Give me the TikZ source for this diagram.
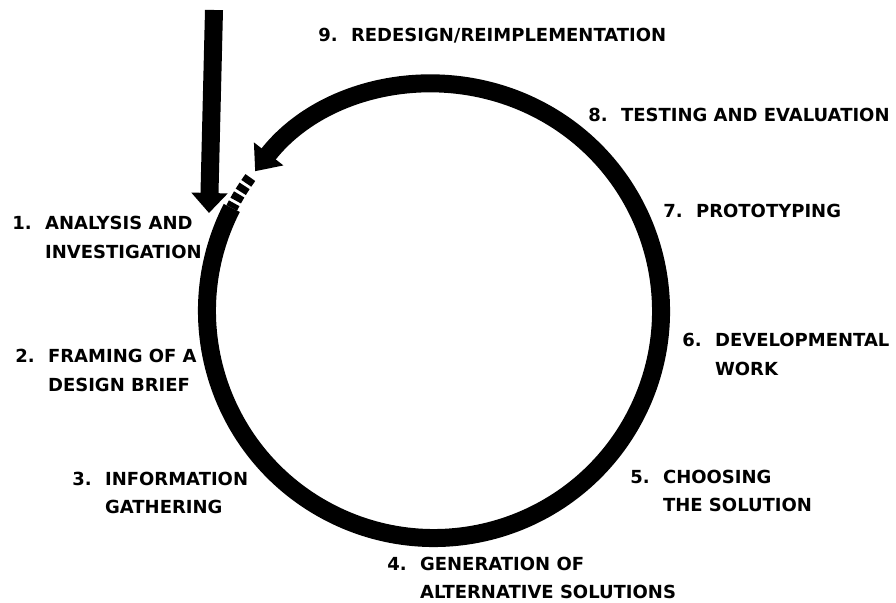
\documentclass[tikz,border=0pt]{standalone}
\usepackage{fontspec}
\setsansfont{DejaVu Sans}
\usepackage{tikz}
\usetikzlibrary{arrows.meta}
\newcommand{\stagetext}[2]{\begin{tabular}[t]{@{}p{0.82cm}@{}l@{}}#1 & #2\end{tabular}}

\begin{document}
\begin{tikzpicture}[
    x=0.025cm, y=0.025cm,
    ring/.style={-{Triangle[length=0.55cm, width=0.9cm]}, line width=0.45cm},
    hatch/.style={line width=0.3cm, dash pattern=on 5pt off 2.2pt},
    bigarr/.style={-{Triangle[length=0.5cm, width=0.88cm]}, line width=0.45cm},
    stage/.style={anchor=base west, inner sep=0pt, font=\sffamily\bfseries\fontsize{12.8}{20}\selectfont},
  ]
  \useasboundingbox (0,0) rectangle (896,-603);

  % Cycle
  \coordinate (c) at (434,-311);
  \draw[ring] ([shift={(153:227)}]c) arc[start angle=153, end angle=502, radius=227];
  \draw[hatch] ([shift={(144:227)}]c) arc[start angle=144, end angle=153, radius=227];

  % Entry arrow
  \coordinate (top) at (214,-10);
  \coordinate (entry) at (209,-213);
  \draw[bigarr] (top) -- (entry);

  % Stages
  \node[stage] (s1) at (12,-230) {\stagetext{1.}{ANALYSIS AND\\ & INVESTIGATION}};
  \node[stage] (s2) at (15,-363) {\stagetext{2.}{FRAMING OF A\\ & DESIGN BRIEF}};
  \node[stage] (s3) at (72,-485) {\stagetext{3.}{INFORMATION\\ & GATHERING}};
  \node[stage] (s4) at (387,-570) {\stagetext{4.}{GENERATION OF\\ & ALTERNATIVE SOLUTIONS}};
  \node[stage] (s5) at (630,-483) {\stagetext{5.}{CHOOSING\\ & THE SOLUTION}};
  \node[stage] (s6) at (682,-347) {\stagetext{6.}{DEVELOPMENTAL\\ & WORK}};
  \node[stage] (s7) at (663,-218) {\stagetext{7.}{PROTOTYPING}};
  \node[stage] (s8) at (588,-122) {\stagetext{8.}{TESTING AND EVALUATION}};
  \node[stage] (s9) at (318,-42) {\stagetext{9.}{REDESIGN/REIMPLEMENTATION}};
\end{tikzpicture}
\end{document}
